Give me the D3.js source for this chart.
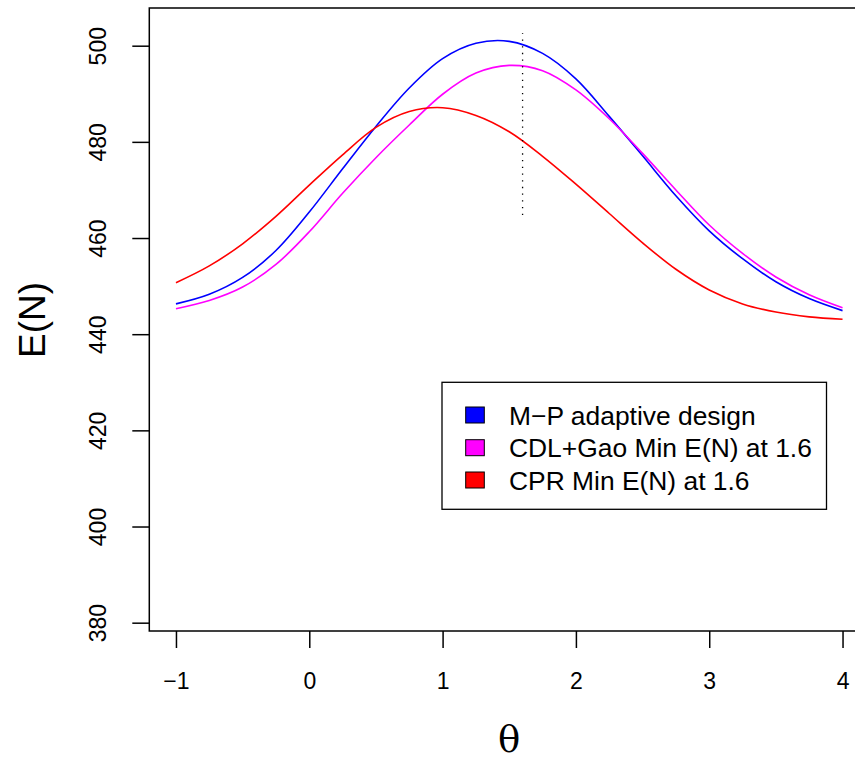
<!DOCTYPE html>
<html>
<head>
<meta charset="utf-8">
<script src="https://cdn.jsdelivr.net/npm/d3@7"></script>
<style>
    body { margin: 0; background: #fff; }
    text { font-family: "Liberation Sans", Arial, Helvetica, sans-serif; }
</style>
</head>
<body>
<div id="chart"></div>
<script>
// theta grid and E(N) values
const theta = [-1, -0.75, -0.5, -0.25, 0, 0.25, 0.5, 0.75, 1, 1.25, 1.5, 1.75, 2, 2.25, 2.5, 2.75, 3, 3.25, 3.5, 3.75, 4];
const mpAdaptive = [446.3, 448.3, 451.8, 457.4, 465.4, 474.4, 483.2, 491.2, 497.3, 500.5, 500.9, 498.4, 493.1, 485.3, 477.1, 468.8, 461.5, 455.7, 450.9, 447.4, 444.9];
const cdlGao = [445.3, 447.0, 449.8, 454.5, 461.3, 469.3, 476.7, 483.5, 489.9, 494.3, 495.9, 494.8, 490.8, 484.8, 477.6, 470.0, 462.7, 456.8, 451.9, 448.2, 445.5];
const cpr = [450.7, 454.2, 458.8, 464.5, 471.0, 477.3, 483.0, 486.3, 487.1, 485.5, 482.1, 477.0, 471.2, 465.1, 459.0, 453.5, 449.2, 446.3, 444.6, 443.6, 443.1];

const xTicks = [-1, 0, 1, 2, 3, 4];
const yTicks = [380, 400, 420, 440, 460, 480, 500];
const seriesNames = ["M\u2212P adaptive design", "CDL+Gao Min E(N) at 1.6", "CPR Min E(N) at 1.6"];
const seriesColors = ["#0000ff", "#ff00ff", "#ff0000"];
const markTheta = 1.6;
const markRange = [464.8, 502.6];

const width = 855;
const height = 761;

const x = d3.scaleLinear().domain([-1.2, 4.2]).range([149.3, 869.2]);
const y = d3.scaleLinear().domain([378.27, 507.84]).range([631, 8]);

const svg = d3.select("#chart")
    .append("svg")
    .attr("width", width)
    .attr("height", height);

const fmt = d => String(d).replace("-", "\u2212");

// x axis
const xAxis = svg.append("g")
    .attr("transform", "translate(0," + y.range()[0] + ")")
    .call(d3.axisBottom(x).tickValues(xTicks).tickFormat(fmt).tickSize(17).tickPadding(25));
xAxis.select(".domain").remove();
xAxis.selectAll("line").attr("stroke", "#000").attr("stroke-width", 1.5);
xAxis.selectAll("text").attr("font-size", "23px").attr("fill", "#000")
    .attr("font-family", "Liberation Sans, Arial, sans-serif");

// y axis, labels rotated like base R
const yAxis = svg.append("g")
    .attr("transform", "translate(" + x.range()[0] + ",0)")
    .call(d3.axisLeft(y).tickValues(yTicks).tickFormat(fmt).tickSize(17).tickPadding(0));
yAxis.select(".domain").remove();
yAxis.selectAll("line").attr("stroke", "#000").attr("stroke-width", 1.5);
yAxis.selectAll("text")
    .attr("font-size", "23px").attr("fill", "#000")
    .attr("font-family", "Liberation Sans, Arial, sans-serif")
    .attr("text-anchor", "middle")
    .attr("dy", 0)
    .attr("x", 0)
    .attr("transform", "translate(-43.5,0) rotate(-90)");

// plot box
svg.append("rect")
    .attr("x", x.range()[0])
    .attr("y", y.range()[1])
    .attr("width", x.range()[1] - x.range()[0])
    .attr("height", y.range()[0] - y.range()[1])
    .attr("fill", "none")
    .attr("stroke", "#000")
    .attr("stroke-width", 1.5);

// curves
const line = d3.line()
    .x(d => x(d[0]))
    .y(d => y(d[1]))
    .curve(d3.curveCatmullRom);

[mpAdaptive, cdlGao, cpr].forEach((vals, i) => {
    svg.append("path")
        .datum(theta.map((t, j) => [t, vals[j]]))
        .attr("d", line)
        .attr("fill", "none")
        .attr("stroke", seriesColors[i])
        .attr("stroke-width", 1.6);
});

// dotted marker at theta = 1.6
svg.append("line")
    .attr("x1", x(markTheta)).attr("x2", x(markTheta))
    .attr("y1", y(markRange[0])).attr("y2", y(markRange[1]))
    .attr("stroke", "#000")
    .attr("stroke-width", 1.3)
    .attr("stroke-dasharray", "1.3,5.4");

// axis titles
svg.append("text")
    .attr("x", x(1.5))
    .attr("y", 752)
    .attr("text-anchor", "middle")
    .attr("font-size", "37px")
    .style("font-family", "DejaVu Serif, Liberation Serif, serif")
    .text("\u03b8");

svg.append("text")
    .attr("transform", "translate(45," + 320 + ") rotate(-90)")
    .attr("text-anchor", "middle")
    .attr("font-size", "37px")
    .text("E(N)");

// legend
const legend = svg.append("g");
legend.append("rect")
    .attr("x", 442).attr("y", 382.3)
    .attr("width", 384.5).attr("height", 127)
    .attr("fill", "#fff")
    .attr("stroke", "#000")
    .attr("stroke-width", 1.3);

const rowY = [415, 447.7, 480];
seriesNames.forEach((name, i) => {
    legend.append("rect")
        .attr("x", 465.7).attr("y", rowY[i] - 8)
        .attr("width", 18.6).attr("height", 16)
        .attr("fill", seriesColors[i])
        .attr("stroke", "#000")
        .attr("stroke-width", 1);
    legend.append("text")
        .attr("x", 509)
        .attr("y", rowY[i])
        .attr("dy", "0.36em")
        .attr("font-size", "26.4px")
        .text(name);
});
</script>
</body>
</html>
